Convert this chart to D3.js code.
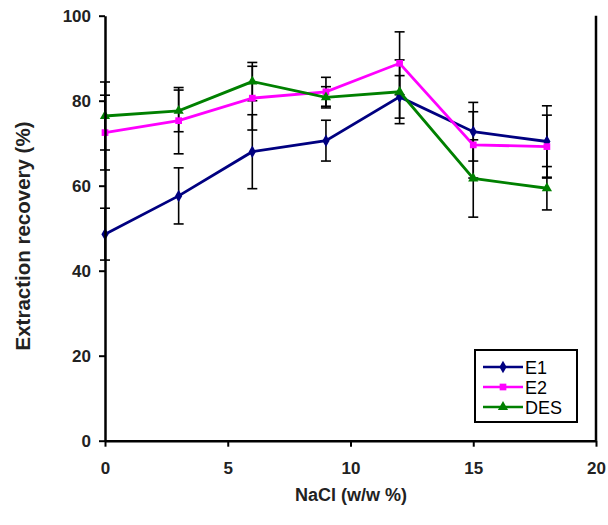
<!DOCTYPE html>
<html>
<head>
<meta charset="utf-8">
<script src="https://cdn.jsdelivr.net/npm/d3@7"></script>
<style>
body { margin: 0; background: #fff; }
text { font-family: Arial, "Liberation Sans", sans-serif; }
</style>
</head>
<body>
<div id="vis"></div>
<script>
var w = 608,
    h = 525;

var nacl = [0, 3, 6, 9, 12, 15, 18];
var e1 = [48.6, 57.6, 68, 70.6, 80.9, 72.7, 70.4];
var e1Err = [6.1, 6.6, 8.7, 4.8, 5, 6.9, 8.4];
var e2 = [72.5, 75.3, 80.6, 82.1, 88.8, 69.6, 69.2];
var e2Err = [8.8, 7.8, 7.5, 3.4, 7.4, 7.8, 7.4];
var des = [76.4, 77.6, 84.5, 80.8, 82.1, 61.7, 59.4];
var desErr = [8, 4.9, 4.5, 2.5, 7.5, 9.1, 5.1];
var xTicks = [0, 5, 10, 15, 20];
var yTicks = [0, 20, 40, 60, 80, 100];

var series = [
    {name: "E1", vals: e1, err: e1Err, color: "#000080", sym: d3.symbolDiamond, size: 45},
    {name: "E2", vals: e2, err: e2Err, color: "#ff00ff", sym: d3.symbolSquare, size: 45},
    {name: "DES", vals: des, err: desErr, color: "#008000", sym: d3.symbolTriangle, size: 45}
];

var x = d3.scaleLinear().domain([0, 20]).range([105, 596]);
var y = d3.scaleLinear().domain([0, 100]).range([440.7, 15.7]);

var svg = d3.select("#vis").append("svg")
    .attr("width", w)
    .attr("height", h);

// right border of plot area
svg.append("line")
    .attr("x1", x(20)).attr("x2", x(20))
    .attr("y1", y(100)).attr("y2", y(0))
    .style("stroke", "#000").style("stroke-width", 2.5);

// error bars
series.forEach(function(s){
    var g = svg.append("g");
    nacl.forEach(function(n, i){
        var cx = x(n), hi = y(s.vals[i] + s.err[i]), lo = y(s.vals[i] - s.err[i]);
        g.append("line").attr("x1", cx).attr("x2", cx).attr("y1", hi).attr("y2", lo)
            .style("stroke", "#000").style("stroke-width", 1.6);
        [hi, lo].forEach(function(yy){
            g.append("line").attr("x1", cx-5).attr("x2", cx+5).attr("y1", yy).attr("y2", yy)
                .style("stroke", "#000").style("stroke-width", 1.6);
        });
    });
});

// lines + markers
var line = d3.line()
    .x(function(d, i){ return x(nacl[i]); })
    .y(function(d){ return y(d); });

series.forEach(function(s){
    svg.append("path")
        .attr("d", line(s.vals))
        .style("fill", "none")
        .style("stroke", s.color)
        .style("stroke-width", 2.8);
    svg.selectAll(null)
        .data(s.vals)
        .enter().append("path")
        .attr("d", d3.symbol().type(s.sym).size(s.size))
        .attr("transform", function(d, i){ return "translate(" + x(nacl[i]) + "," + y(d) + ")"; })
        .style("fill", s.color);
});

// axes
var xAxis = svg.append("g")
    .attr("transform", "translate(0," + y(0) + ")")
    .call(d3.axisBottom(x).tickValues(xTicks).tickSize(6).tickPadding(15).tickSizeOuter(0));
var yAxis = svg.append("g")
    .attr("transform", "translate(" + x(0) + ",0)")
    .call(d3.axisLeft(y).tickValues(yTicks).tickSize(6).tickPadding(8).tickSizeOuter(0));

[xAxis, yAxis].forEach(function(a){
    a.select(".domain").style("stroke", "#000").style("stroke-width", 2.5);
    a.selectAll(".tick line").style("stroke", "#000").style("stroke-width", 2);
    a.selectAll(".tick text")
        .style("font-family", "Arial, 'Liberation Sans', sans-serif")
        .style("font-size", "17px")
        .style("font-weight", "bold")
        .style("fill", "#222");
});

// axis titles
svg.append("text")
    .attr("x", 351).attr("y", 501)
    .attr("text-anchor", "middle")
    .style("font-size", "18px").style("font-weight", "bold").style("fill", "#222")
    .text("NaCl (w/w %)");

svg.append("text")
    .attr("transform", "translate(30," + 236 + ") rotate(-90)")
    .attr("text-anchor", "middle")
    .style("font-size", "20.5px").style("font-weight", "bold").style("fill", "#222")
    .text("Extraction recovery (%)");

// legend
var legend = svg.append("g");
legend.append("rect")
    .attr("x", 475).attr("y", 350).attr("width", 102).attr("height", 72)
    .style("fill", "#fff").style("stroke", "#000").style("stroke-width", 2);
series.forEach(function(s, i){
    var ly = 367 + i*20;
    legend.append("line")
        .attr("x1", 483).attr("x2", 523).attr("y1", ly).attr("y2", ly)
        .style("stroke", s.color).style("stroke-width", 2.6);
    legend.append("path")
        .attr("d", d3.symbol().type(s.sym).size(s.size))
        .attr("transform", "translate(503," + ly + ")")
        .style("fill", s.color);
    legend.append("text")
        .attr("x", 525).attr("y", ly + 7)
        .style("font-size", "18px").style("fill", "#000")
        .text(s.name);
});
</script>
</body>
</html>
